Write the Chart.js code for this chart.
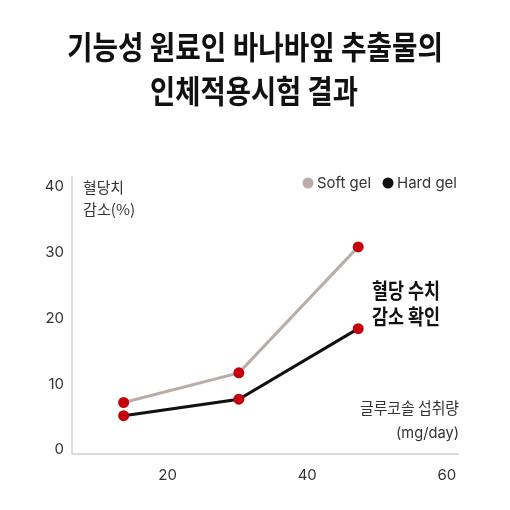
<!DOCTYPE html>
<html><head><meta charset="utf-8">
<script src="https://cdn.jsdelivr.net/npm/chart.js@4.4.1/dist/chart.umd.min.js"></script>
<style>html,body{margin:0;padding:0;background:#fff}#wrap{width:510px;height:510px;position:relative}</style>
</head><body><div id="wrap"><canvas id="c" width="510" height="510"></canvas></div>
<script>
const titleLines = ['기능성 원료인 바나바잎 추출물의', '인체적용시험 결과'];
const seriesNames = ['Soft gel', 'Hard gel'];
const doses = [13.7, 30.2, 47.3];
const softGel = [7.2, 11.7, 30.8];
const hardGel = [5.2, 7.7, 18.4];
const yTicks = [0, 10, 20, 30, 40];
const xTicks = [20, 40, 60];
const yAxisTitle = ['혈당치', '감소(%)'];
const xAxisTitle = ['글루코솔 섭취량', '(mg/day)'];
const callout = ['혈당 수치', '감소 확인'];

const KR = '"Noto Sans CJK KR", sans-serif';
const LAT = 'Inter, "Noto Sans CJK KR", sans-serif';
const softColor = '#b9aca9';
const hardColor = '#111111';
const pointColor = '#c4000b';

function fitText(ctx, text, x, y, font, color, width, align) {
  ctx.save();
  ctx.font = font; ctx.fillStyle = color; ctx.textBaseline = 'middle'; ctx.textAlign = 'left';
  const w = ctx.measureText(text).width;
  const s = width / w;
  const left = align === 'center' ? x - width / 2 : (align === 'right' ? x - width : x);
  ctx.translate(left, y); ctx.scale(s, 1);
  ctx.fillText(text, 0, 0);
  ctx.restore();
}

const textPlugin = {
  id: 'texts',
  afterDraw(chart) {
    const ctx = chart.ctx;
    fitText(ctx, titleLines[0], 255, 47, 'bold 32px ' + KR, '#111', 376, 'center');
    fitText(ctx, titleLines[1], 254, 91, 'bold 32px ' + KR, '#111', 208, 'center');
    fitText(ctx, yAxisTitle[0], 83, 187, '15px ' + KR, '#333', 41, 'left');
    fitText(ctx, yAxisTitle[1], 83, 209, '15px ' + KR, '#333', 52, 'left');
    fitText(ctx, callout[0], 406, 290, 'bold 21px ' + KR, '#111', 68, 'center');
    fitText(ctx, callout[1], 406, 316, 'bold 21px ' + KR, '#111', 68, 'center');
    fitText(ctx, xAxisTitle[0], 459, 408, '16px ' + KR, '#333', 99, 'right');
    fitText(ctx, xAxisTitle[1], 459, 433, '15px ' + LAT, '#333', 63, 'right');
    // legend
    const ds = chart.data.datasets;
    const legendPos = [[308, 317, 54], [388, 397, 60]];
    ds.forEach((d, i) => {
      const [dx, tx, tw] = legendPos[i];
      ctx.save();
      ctx.beginPath(); ctx.arc(dx, 183, 5.5, 0, Math.PI * 2);
      ctx.fillStyle = d.borderColor; ctx.fill();
      ctx.restore();
      fitText(ctx, d.label, tx, 183, '15px ' + LAT, '#333', tw, 'left');
    });
  }
};

const mk = (ys) => doses.map((x, i) => ({ x, y: ys[i] }));

new Chart(document.getElementById('c'), {
  type: 'line',
  data: {
    datasets: [
      { label: seriesNames[0], data: mk(softGel), borderColor: softColor, borderWidth: 3,
        pointBackgroundColor: pointColor, pointBorderColor: pointColor, pointRadius: 5.5, pointBorderWidth: 0, tension: 0 },
      { label: seriesNames[1], data: mk(hardGel), borderColor: hardColor, borderWidth: 3,
        pointBackgroundColor: pointColor, pointBorderColor: pointColor, pointRadius: 5.5, pointBorderWidth: 0, tension: 0 }
    ]
  },
  options: {
    responsive: false, animation: false, devicePixelRatio: 1,
    layout: { padding: { top: 177, right: 52, left: 0, bottom: 0 } },
    plugins: { legend: { display: false }, title: { display: false }, tooltip: { enabled: false } },
    scales: {
      x: {
        type: 'linear', min: 6.3, max: 61.6,
        afterBuildTicks: (s) => { s.ticks = xTicks.map(v => ({ value: v })); },
        afterFit: (s) => { s.height = 56; s.paddingLeft = 0; s.paddingRight = 0; },
        grid: { display: true, color: 'rgba(0,0,0,0)', drawTicks: false },
        border: { display: true, color: '#dddddd', width: 2 },
        ticks: { padding: 12, color: '#333', font: { family: LAT, size: 15 } }
      },
      y: {
        type: 'linear', min: -0.61, max: 41.4,
        afterBuildTicks: (s) => { s.ticks = yTicks.map(v => ({ value: v })); },
        afterFit: (s) => { s.width = 72; s.paddingTop = 0; s.paddingBottom = 0; },
        grid: { display: true, color: 'rgba(0,0,0,0)', drawTicks: false },
        border: { display: true, color: '#dddddd', width: 2 },
        ticks: { padding: 8, color: '#333', font: { family: LAT, size: 15 } }
      }
    }
  },
  plugins: [textPlugin]
});
</script>
</body></html>
